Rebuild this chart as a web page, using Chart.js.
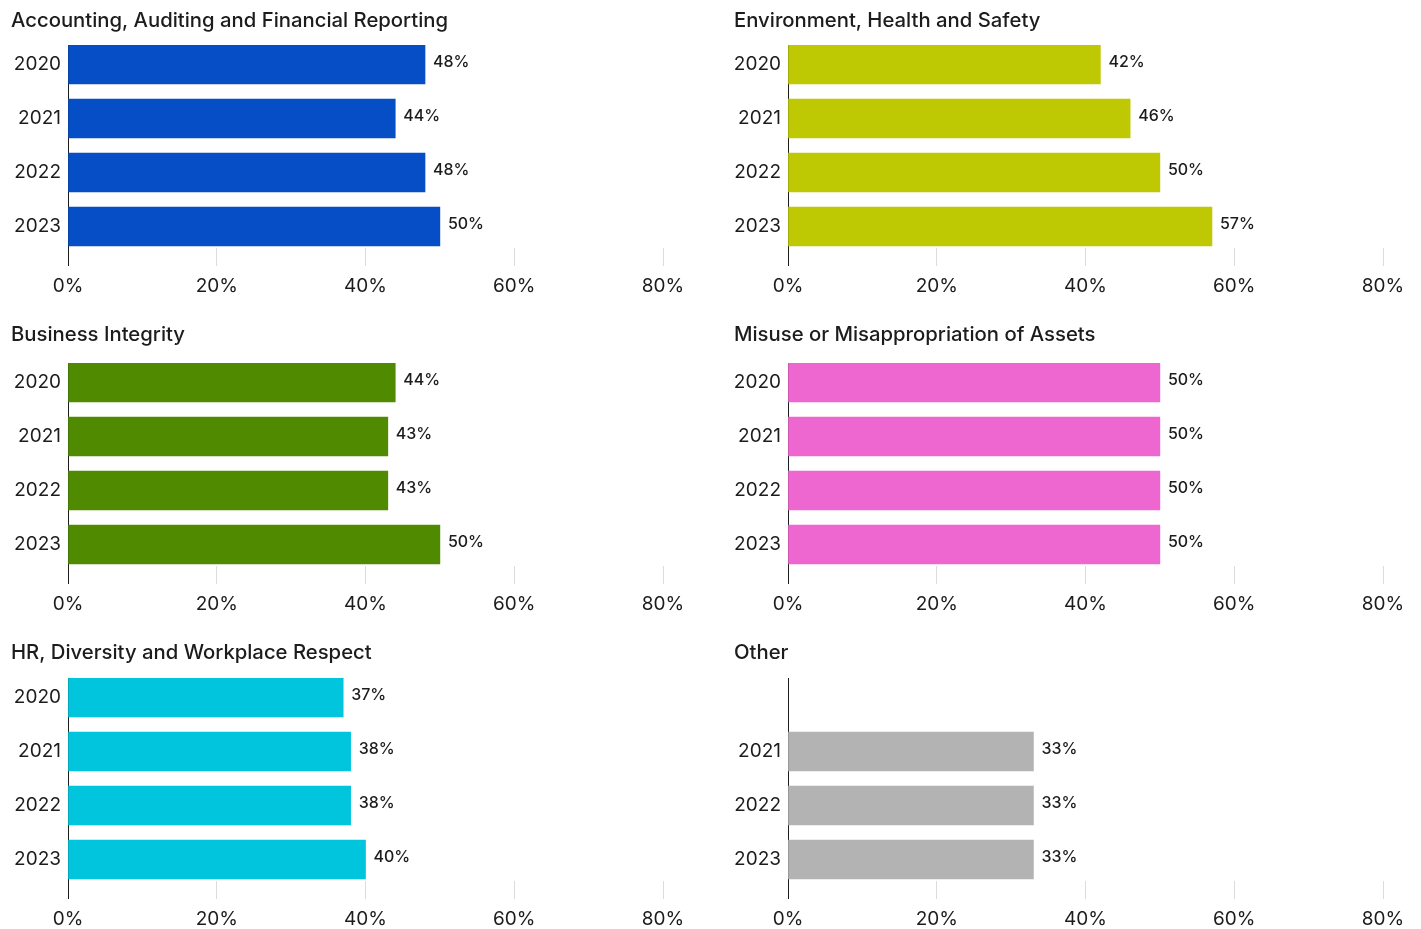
<!DOCTYPE html>
<html>
<head>
<meta charset="utf-8">
<script src="https://cdn.jsdelivr.net/npm/chart.js@4/dist/chart.umd.min.js"></script>
<style>
  html, body { margin: 0; padding: 0; background: #fff; overflow: hidden; width: 1421px; height: 929px; }
  .panel { position: absolute; }
</style>
</head>
<body>
<script>
// Survey years shown on every panel
const years = ['2020', '2021', '2022', '2023'];
// Percent ticks along the bottom axis
const xTickValues = [0, 20, 40, 60, 80];

// Share per year, one list per category
const accounting = [48, 44, 48, 50];
const environment = [42, 46, 50, 57];
const integrity = [44, 43, 43, 50];
const misuse = [50, 50, 50, 50];
const hrRespect = [37, 38, 38, 40];
const other = [null, 33, 33, 33];

const panels = [
  { title: 'Accounting, Auditing and Financial Reporting', values: accounting, color: '#054ec5', col: 0, row: 0 },
  { title: 'Environment, Health and Safety', values: environment, color: '#bfc903', col: 1, row: 0 },
  { title: 'Business Integrity', values: integrity, color: '#4f8a00', col: 0, row: 1 },
  { title: 'Misuse or Misappropriation of Assets', values: misuse, color: '#ee66cf', col: 1, row: 1 },
  { title: 'HR, Diversity and Workplace Respect', values: hrRespect, color: '#00c5dc', col: 0, row: 2 },
  { title: 'Other', values: other, color: '#b3b3b3', col: 1, row: 2 }
];

// Grid geometry
const colLeft = [11, 734];      // title / canvas left edge
const axisX = [68, 788];        // where the value axis starts
const rowTop = [0, 318, 633];
const titleCenter = [21, 17, 20];
const plotWidth = 595;
const rightPad = 40;
const plotTop = 45;
const plotBottom = 248;
const xAxisHeight = 46;
const titleSize = 20.3;
const titleLine = titleSize * 1.2;

const FONT = 'Inter, Roboto, sans-serif';
const INK = '#1c1c1c';

// Percent label drawn just past the end of each bar
const valueLabels = {
  id: 'valueLabels',
  afterDatasetsDraw(chart) {
    const ctx = chart.ctx;
    const ds = chart.data.datasets[0];
    const meta = chart.getDatasetMeta(0);
    ctx.save();
    ctx.font = '500 16px ' + FONT;
    ctx.fillStyle = INK;
    ctx.textAlign = 'left';
    ctx.textBaseline = 'middle';
    meta.data.forEach((bar, i) => {
      const v = ds.data[i].x;
      ctx.fillText(v + '%', bar.x + 8, bar.y - 2);
    });
    ctx.restore();
  }
};

panels.forEach(p => {
  const yWidth = axisX[p.col] - colLeft[p.col];
  const w = yWidth + plotWidth + rightPad;
  const h = plotBottom + xAxisHeight;
  const canvas = document.createElement('canvas');
  canvas.className = 'panel';
  canvas.width = w;
  canvas.height = h;
  canvas.style.left = colLeft[p.col] + 'px';
  canvas.style.top = rowTop[p.row] + 'px';
  canvas.style.width = w + 'px';
  canvas.style.height = h + 'px';
  document.body.appendChild(canvas);

  const padTop = titleCenter[p.row] - titleLine / 2;
  const padBottom = plotTop - padTop - titleLine;

  // Only years that have a value get a bar and a year label
  const points = [];
  const shownRows = [];
  p.values.forEach((v, i) => {
    if (v !== null) { points.push({ x: v, y: i }); shownRows.push(i); }
  });

  new Chart(canvas, {
    type: 'bar',
    data: {
      datasets: [{
        data: points,
        backgroundColor: p.color,
        borderWidth: 0,
        barThickness: 39
      }]
    },
    options: {
      indexAxis: 'y',
      responsive: false,
      animation: false,
      devicePixelRatio: 1,
      layout: { padding: { left: 0, right: rightPad, top: 0, bottom: 0 } },
      plugins: {
        legend: { display: false },
        tooltip: { enabled: false },
        title: {
          display: true,
          text: p.title,
          align: 'start',
          color: INK,
          font: { family: FONT, size: titleSize, weight: '500', lineHeight: 1.2 },
          padding: { top: padTop, bottom: padBottom }
        }
      },
      scales: {
        x: {
          type: 'linear',
          min: 0,
          max: 80,
          afterBuildTicks: s => { s.ticks = xTickValues.map(v => ({ value: v })); },
          afterFit: s => { s.height = xAxisHeight; },
          ticks: {
            callback: v => v + '%',
            color: INK,
            font: { family: FONT, size: 19, weight: '400' },
            padding: 9,
            maxRotation: 0,
            autoSkip: false
          },
          grid: {
            drawOnChartArea: false,
            drawTicks: true,
            tickLength: 18,
            lineWidth: 1,
            color: c => (c.tick && c.tick.value === 0) ? '#1c1c1c' : '#dcdcdc'
          },
          border: { display: false }
        },
        y: {
          type: 'linear',
          reverse: true,
          offset: false,
          bounds: 'data',
          min: -0.361,
          max: 3.398,
          afterBuildTicks: s => { s.ticks = shownRows.map(i => ({ value: i })); },
          afterFit: s => { s.width = yWidth; },
          ticks: {
            callback: v => years[v],
            color: INK,
            font: { family: FONT, size: 19, weight: '400' },
            padding: 7,
            autoSkip: false
          },
          grid: { display: true, offset: false, drawOnChartArea: false, drawTicks: false },
          border: { display: true, color: '#1c1c1c', width: 1 }
        }
      }
    },
    plugins: [valueLabels]
  });
});
</script>
</body>
</html>
